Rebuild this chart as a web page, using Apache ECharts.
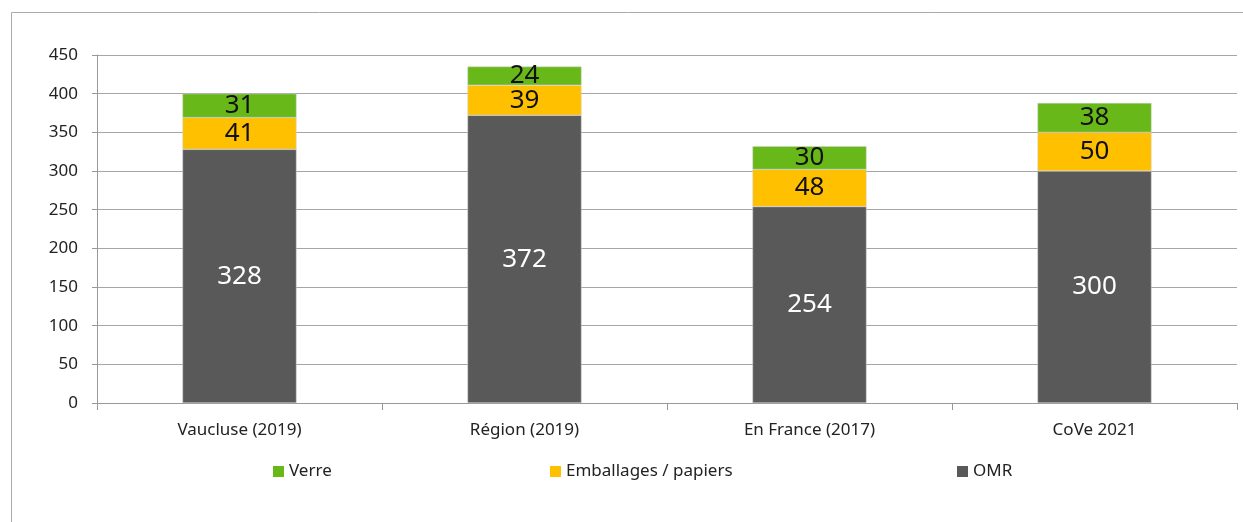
<html lang="fr">
<head>
    <meta charset="UTF-8">
    <title>Ordures ménagères</title>
</head>
<body style="margin:0;">
<div id="main" style="width: 1243px; height: 522px;"></div>
<script src="https://cdn.jsdelivr.net/npm/echarts@6/dist/echarts.min.js"></script>
<script>
var categories = ['Vaucluse (2019)', 'Région (2019)', 'En France (2017)', 'CoVe 2021'];
var omr = [328, 372, 254, 300];
var emballages = [41, 39, 48, 50];
var verre = [31, 24, 30, 38];
var yTicks = { min: 0, max: 450, interval: 50 };

var fontName = 'Noto Sans';
var myChart = echarts.init(document.getElementById('main'));

function makeSeries(name, data, color, labelColor) {
    return {
        name: name,
        type: 'bar',
        stack: 'total',
        barCategoryGap: '60%',
        data: data,
        itemStyle: { color: color, borderColor: '#d0d0d0', borderWidth: 0.5 },
        label: {
            show: true,
            position: 'inside',
            color: labelColor,
            fontFamily: fontName,
            fontSize: 26
        }
    };
}

function legendAt(left, name) {
    return {
        left: left,
        top: 458,
        data: [name],
        icon: 'rect',
        itemWidth: 11,
        itemHeight: 11,
        itemGap: 4,
        itemStyle: { borderWidth: 0 },
        textStyle: { fontFamily: fontName, fontSize: 17, color: '#222' }
    };
}

var option = {
    animation: false,
    backgroundColor: '#fff',
    graphic: [{
        type: 'rect',
        left: 9, top: 10,
        shape: { width: 1260, height: 540 },
        style: { fill: 'none', stroke: '#aaa', lineWidth: 1 },
        silent: true
    }],
    grid: { left: 97, right: 6, top: 55, bottom: 119 },
    legend: [
        legendAt(268, 'Verre'),
        legendAt(545, 'Emballages / papiers'),
        legendAt(952, 'OMR')
    ],
    xAxis: {
        type: 'category',
        data: categories,
        axisLine: { lineStyle: { color: '#999' } },
        axisTick: { show: true, length: 7, lineStyle: { color: '#999' } },
        axisLabel: { color: '#222', fontFamily: fontName, fontSize: 17, margin: 19 }
    },
    yAxis: {
        type: 'value',
        min: yTicks.min,
        max: yTicks.max,
        interval: yTicks.interval,
        axisLine: { show: true, lineStyle: { color: '#999' } },
        axisTick: { show: true, length: 5, lineStyle: { color: '#999' } },
        splitLine: { lineStyle: { color: '#a6a6a6' } },
        axisLabel: { color: '#222', fontFamily: fontName, fontSize: 17, margin: 19 }
    },
    series: [
        makeSeries('OMR', omr, '#595959', '#fff'),
        makeSeries('Emballages / papiers', emballages, '#ffc000', '#111'),
        makeSeries('Verre', verre, '#69b819', '#111')
    ]
};
myChart.setOption(option);
</script>
</body>
</html>
